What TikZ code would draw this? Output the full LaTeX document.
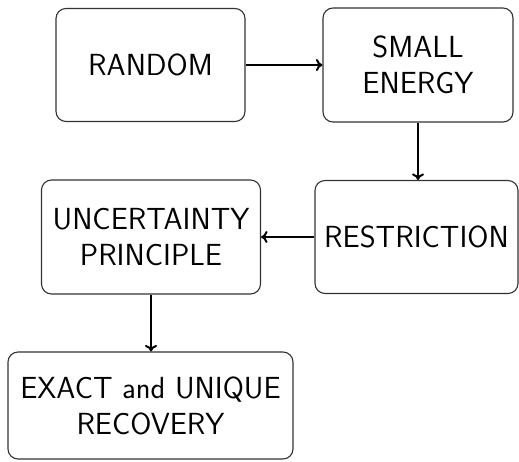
\documentclass[tikz,border=0pt]{standalone}
\usetikzlibrary{arrows.meta}
\begin{document}
\begin{tikzpicture}[x=1pt,y=-1pt,
  box/.style={draw=black!80, line width=1.1pt, rounded corners=10pt, align=center,
    font=\sffamily\fontsize{30.5}{36}\selectfont, inner sep=0pt},
  conn/.style={line width=2pt, -{To[length=6.5pt,width=12pt]}}]
\useasboundingbox (0,0) rectangle (519,461);
\node[box, minimum width=189pt, minimum height=113pt] (random) at (150.5,65) {RANDOM};
\node[box, minimum width=190pt, minimum height=114pt] (small) at (418,65) {SMALL\\ENERGY};
\node[box, minimum width=203pt, minimum height=113pt] (restr) at (416.5,237) {RESTRICTION};
\node[box, minimum width=219pt, minimum height=114pt] (unc) at (151,237) {UNCERTAINTY\\PRINCIPLE};
\node[box, minimum width=285pt, minimum height=107pt] (exact) at (150.5,405.5) {EXACT and UNIQUE\\RECOVERY};
\draw[conn] (random.east) -- (small.west);
\draw[conn] (small.south) -- (small.south |- restr.north);
\draw[conn] (restr.west) -- (unc.east);
\draw[conn] (unc.south) -- (unc.south |- exact.north);
\end{tikzpicture}
\end{document}
